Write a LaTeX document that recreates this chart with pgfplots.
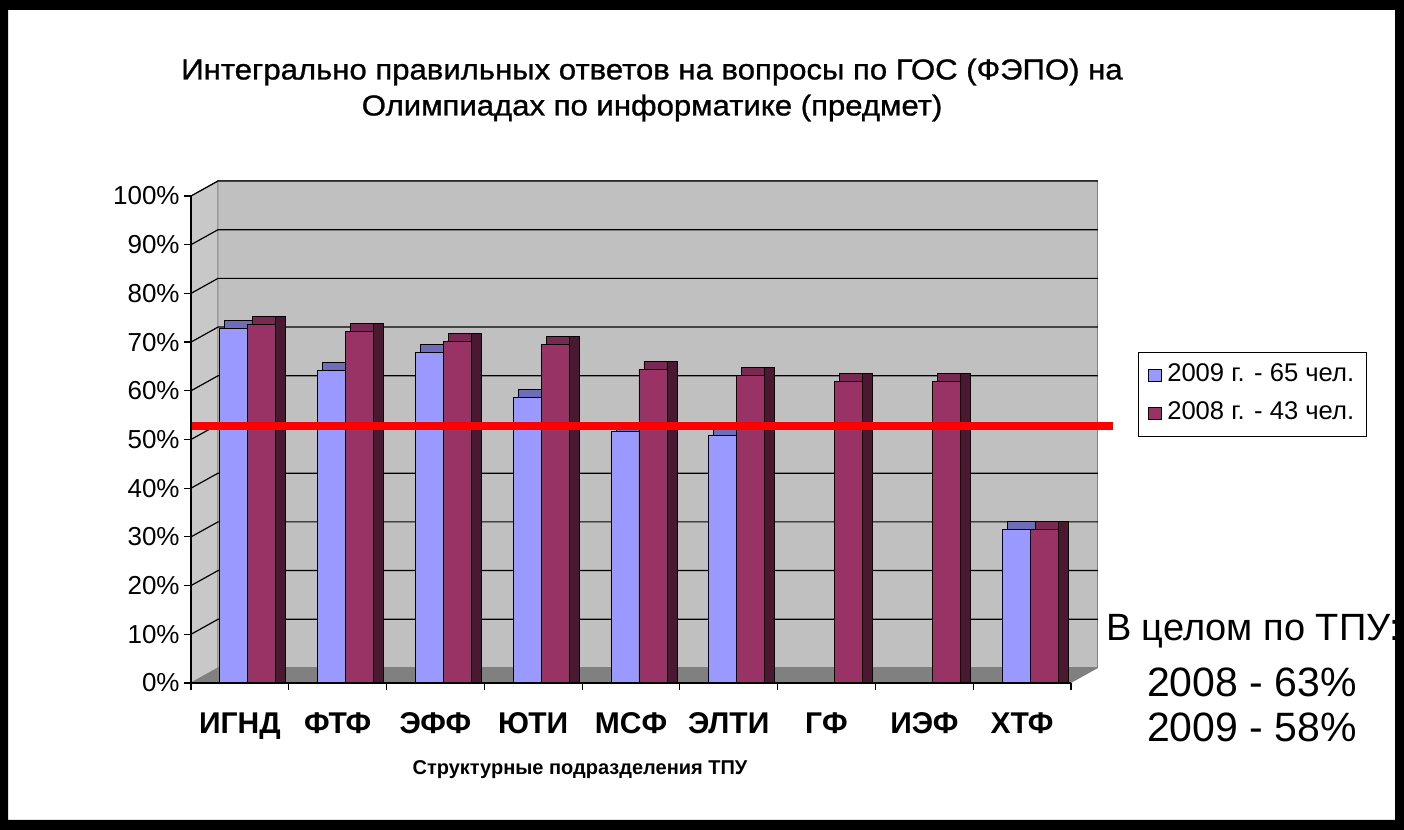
\documentclass[border=0pt]{standalone}
\usepackage{fontspec}
\setmainfont{Liberation Sans}
\newfontfamily\titlefont[FakeStretch=1.08, FakeBold=1]{Liberation Sans}
\usepackage{pgfplots}
\usepackage{pgfplotstable}
\pgfplotsset{compat=1.18}
\definecolor{c09}{HTML}{9999FF}
\definecolor{c09top}{HTML}{6E6EB8}
\definecolor{c08}{HTML}{993366}
\definecolor{c08top}{HTML}{7A2952}
\definecolor{c08side}{HTML}{4A1830}
\definecolor{wall}{HTML}{C0C0C0}
\definecolor{wallside}{HTML}{C8C8C8}
\definecolor{floorc}{HTML}{808080}

% 2009 (65 people)
\pgfplotstableread{
x v
0 72.8
1 64.2
2 67.9
3 58.6
4 51.6
5 50.8
8 31.5
}\tnine
% 2008 (43 people)
\pgfplotstableread{
x v
0 73.6
1 72.2
2 70.1
3 69.5
4 64.4
5 63.1
6 61.9
7 61.9
8 31.5
}\teight

\begin{document}
\begin{tikzpicture}
\fill[white] (0,0) rectangle (702pt,415pt);
\node[font=\titlefont\fontsize{14.4}{16}\selectfont] at (326pt,379pt) {Интегрально правильных ответов на вопросы по ГОС (ФЭПО) на};
\node[font=\titlefont\fontsize{14.4}{16}\selectfont] at (326pt,361pt) {Олимпиадах по информатике (предмет)};
\begin{axis}[
  at={(95.5pt,73.5pt)}, anchor=south west,
  scale only axis, width=440pt, height=243.5pt,
  xmin=-0.5, xmax=8.5, ymin=0, ymax=100,
  clip=false, axis on top,
  axis x line*=bottom, axis y line*=left,
  axis line style={black, line width=0.6pt},
  tick style={black, line width=0.6pt},
  tick align=outside,
  major tick length=3.5pt, minor tick length=3.5pt,
  ytick={0,10,...,100},
  /pgf/number format/assume math mode=true,
  yticklabel={\pgfmathprintnumber{\tick}\%},
  yticklabel style={font=\fontsize{13}{15}\selectfont, inner sep=2pt},
  xtick={0,...,8},
  xticklabels={ИГНД,ФТФ,ЭФФ,ЮТИ,МСФ,ЭЛТИ,ГФ,ИЭФ,ХТФ},
  major x tick style={draw=none},
  minor xtick={-0.5,0.5,...,8.5},
  xticklabel style={font=\bfseries\fontsize{15}{18}\selectfont, text height=11pt, text depth=3pt, yshift=-7pt},
  legend style={at={(1.076,0.680)}, anchor=north west, draw=black, line width=0.6pt,
    inner xsep=5pt, inner ysep=4.5pt, row sep=5pt,
    nodes={inner sep=1pt, text height=9pt, text depth=3pt},
    font=\fontsize{12.8}{14}\selectfont},
  legend cell align=left,
]
% back wall, side wall, floor
\filldraw[fill=wall, draw=gray, line width=0.5pt] (-0.224,3.08) rectangle (8.776,103.08);
\filldraw[fill=wallside, draw=gray, line width=0.5pt] (-0.5,0) -- (-0.224,3.08) -- (-0.224,103.08) -- (-0.5,100) -- cycle;
\fill[floorc] (-0.5,0) -- (8.5,0) -- (8.776,3.08) -- (-0.224,3.08) -- cycle;
\pgfplotsinvokeforeach{10,20,...,100}{
  \draw[black, line width=0.6pt] (-0.5,#1) -- (-0.224,#1+3.08) -- (8.776,#1+3.08);
}
% 3D caps and sides
\addplot[ybar, bar width=14pt, bar shift=-0.5pt, fill=c09top, draw=black, line width=0.4pt, forget plot]
  table[x=x, y expr=\thisrow{v}+1.64] {\tnine};
\addplot[ybar, bar width=14pt, bar shift=13.5pt, fill=c08top, draw=black, line width=0.4pt, forget plot]
  table[x=x, y expr=\thisrow{v}+1.64] {\teight};
\addplot[ybar, bar width=5pt, bar shift=20.5pt, fill=c08side, draw=black, line width=0.4pt, forget plot]
  table[x=x, y expr=\thisrow{v}+1.64] {\teight};
% front faces
\addplot[ybar, bar width=14pt, bar shift=-3pt, fill=c09, draw=black, line width=0.4pt,
  legend image code/.code={\filldraw[fill=c09, draw=black, line width=0.4pt] (0pt,-3pt) rectangle (6.5pt,3pt);}]
  table[x=x, y=v] {\tnine};
\addlegendentry{\hspace{1.5pt}2009 г. - 65 чел.}
\addplot[ybar, bar width=14pt, bar shift=11pt, fill=c08, draw=black, line width=0.4pt,
  legend image code/.code={\filldraw[fill=c08, draw=black, line width=0.4pt] (0pt,-3pt) rectangle (6.5pt,3pt);}]
  table[x=x, y=v] {\teight};
\addlegendentry{\hspace{1.5pt}2008 г. - 43 чел.}
% reference line
\addplot[red, line width=4pt, forget plot] coordinates {(-0.5,52.8) (8.93,52.8)};
\end{axis}
\node[font=\bfseries\fontsize{10}{12}\selectfont] at (290pt,30pt) {Структурные подразделения ТПУ};
% summary annotation
\node[anchor=west, font=\fontsize{19}{22}\selectfont] at (549.5pt,99.5pt) {В целом по ТПУ:};
\node[font=\fontsize{20.5}{24}\selectfont] at (626pt,74pt) {2008 - 63\%};
\node[font=\fontsize{20.5}{24}\selectfont] at (626pt,51.5pt) {2009 - 58\%};
\fill[black, even odd rule] (0,0) rectangle (702pt,415pt) (4pt,5pt) rectangle (697.5pt,410pt);
\pgfresetboundingbox
\useasboundingbox (0,0) rectangle (702pt,415pt);
\end{tikzpicture}
\end{document}
